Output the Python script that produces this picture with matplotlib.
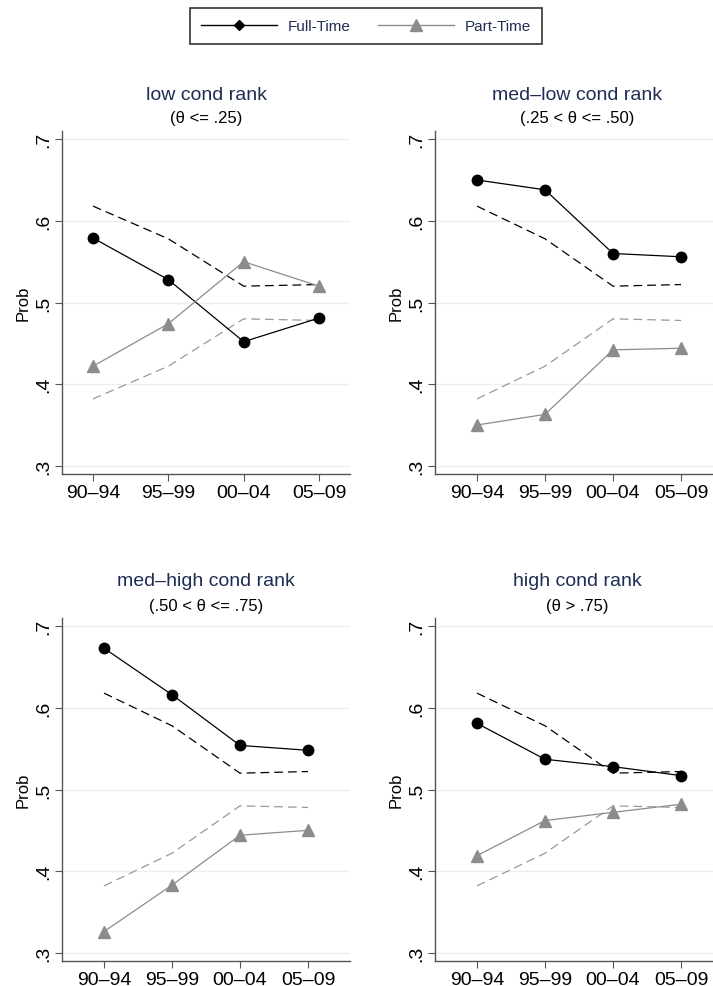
import numpy as np
import matplotlib
matplotlib.use("Agg")
import matplotlib.pyplot as plt
from matplotlib.lines import Line2D

plt.rcParams['font.family'] = ['Liberation Sans', 'DejaVu Sans']

periods = ["90\u201394", "95\u201399", "00\u201304", "05\u201309"]

titles = ["low cond rank", "med\u2013low cond rank", "med\u2013high cond rank", "high cond rank"]
subtitles = ["(\u03b8 <= .25)", "(.25 < \u03b8 <= .50)", "(.50 < \u03b8 <= .75)", "(\u03b8 > .75)"]

# overall shares (dashed reference lines, same in every panel)
ft_all = [0.618, 0.578, 0.520, 0.522]
pt_all = [0.382, 0.422, 0.480, 0.478]

ft_low = [0.579, 0.528, 0.452, 0.481]
pt_low = [0.422, 0.474, 0.550, 0.520]
ft_medlow = [0.650, 0.638, 0.560, 0.556]
pt_medlow = [0.350, 0.363, 0.442, 0.444]
ft_medhigh = [0.673, 0.616, 0.554, 0.548]
pt_medhigh = [0.326, 0.383, 0.444, 0.450]
ft_high = [0.581, 0.537, 0.528, 0.517]
pt_high = [0.419, 0.462, 0.472, 0.482]

ft_groups = [ft_low, ft_medlow, ft_medhigh, ft_high]
pt_groups = [pt_low, pt_medlow, pt_medhigh, pt_high]

W, H = 713, 987
fig = plt.figure(figsize=(W / 100, H / 100), dpi=100)

# panel boxes in pixels: left, right, top, bottom, xlim, title centre
boxes = [
    (62, 350, 132, 475, (0.589, 4.411), 206),
    (435, 713, 132, 475, (0.382, 4.47), 577),
    (62, 350, 619, 962, (0.382, 4.618), 206),
    (435, 713, 619, 962, (0.382, 4.47), 577),
]

navy = "#1f2d55"
grey = "#8c8c8c"
x = np.arange(1, 5)

for i, (l, r, t, b, xl, cx) in enumerate(boxes):
    ax = fig.add_axes([l / W, 1 - b / H, (r - l) / W, (b - t) / H])
    ax.set_xlim(*xl)
    ax.set_ylim(0.29, 0.71)
    for yv in [0.3, 0.4, 0.5, 0.6, 0.7]:
        ax.axhline(yv, color="#e8f0f0", lw=1.0, zorder=0)
    ax.plot(x, ft_all, color="black", lw=0.9, ls=(0, (7, 4)), zorder=2)
    ax.plot(x, pt_all, color="#999999", lw=0.9, ls=(0, (7, 4)), zorder=2)
    ax.plot(x, ft_groups[i], color="black", lw=0.9, marker="o", ms=7.5,
            markerfacecolor="black", markeredgecolor="black", zorder=3)
    ax.plot(x, pt_groups[i], color=grey, lw=0.9, marker="^", ms=8,
            markerfacecolor=grey, markeredgecolor=grey, zorder=3)
    ax.set_xticks(x)
    ax.set_xticklabels(periods, fontsize=14)
    ax.set_yticks([0.3, 0.4, 0.5, 0.6, 0.7])
    ax.set_yticklabels([".3", ".4", ".5", ".6", ".7"], fontsize=14,
                       rotation=90, va="center")
    ax.set_ylabel("Prob", fontsize=12, labelpad=3)
    for s in ["top", "right"]:
        ax.spines[s].set_visible(False)
    for s in ["left", "bottom"]:
        ax.spines[s].set_color("#555555")
        ax.spines[s].set_linewidth(1.0)
    ax.tick_params(axis="both", direction="out", length=5, width=0.8,
                   color="#555555", pad=2)
    ty = 95 if i < 2 else 582
    fig.text(cx / W, 1 - ty / H, titles[i], color=navy, fontsize=14,
             ha="center", va="center")
    fig.text(cx / W, 1 - (ty + 24) / H, subtitles[i], color="black",
             fontsize=12, ha="center", va="center")

handles = [
    Line2D([], [], color="black", lw=1.0, marker="D", ms=5,
           markerfacecolor="black"),
    Line2D([], [], color=grey, lw=1.0, marker="^", ms=8,
           markerfacecolor=grey, markeredgecolor=grey),
]
leg = fig.legend(handles, ["Full-Time", "Part-Time"], ncol=2,
                 loc="center", bbox_to_anchor=(366 / W, 1 - 27 / H),
                 frameon=True, fontsize=11, handlelength=5.0,
                 columnspacing=1.8, handletextpad=0.7, fancybox=False,
                 borderpad=0.7)
leg.get_frame().set_edgecolor("black")
leg.get_frame().set_linewidth(1.2)
for txt in leg.get_texts():
    txt.set_color("#1f2d55")

fig.savefig("out.png", dpi=100)
